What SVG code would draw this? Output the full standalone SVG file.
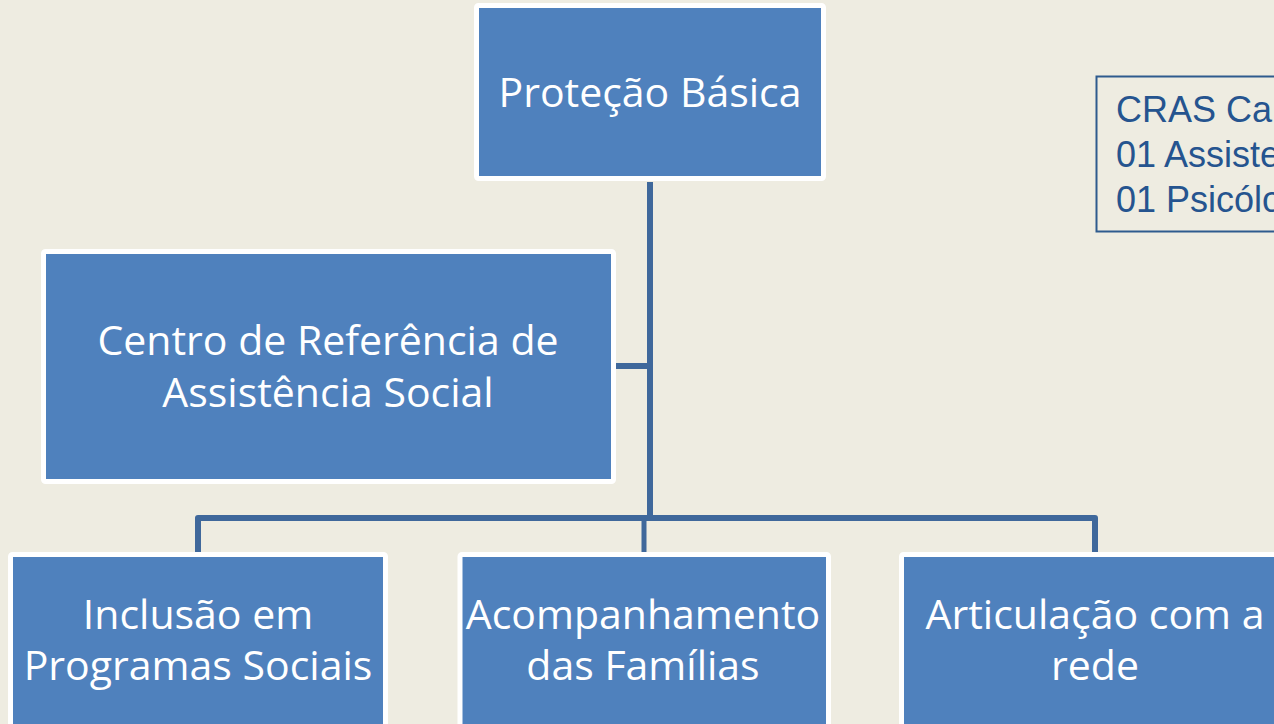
<svg xmlns="http://www.w3.org/2000/svg" width="1274" height="724" viewBox="0 0 1274 724">
<style>
.node rect{fill:#4F81BD;stroke:#FFFFFF;stroke-width:5}
.node text{font-family:"Open Sans","Noto Sans",sans-serif;font-size:41px;fill:#FFFFFF;text-anchor:middle}
.conn{stroke:#3F689B;stroke-width:6;fill:none;stroke-linejoin:round}
.note text{font-family:"Liberation Sans",Arial,sans-serif;font-size:36px;fill:#25548F}
</style>
<rect width="1274" height="724" fill="#EEECE1"/>
<g id="connectors">
<path class="conn" d="M650 182 V518"/>
<path class="conn" d="M616 366 H650"/>
<path class="conn" d="M198 552 V518 H1095 V552"/>
<path class="conn" d="M644 518 V552" style="stroke-width:5"/>
</g>
<g id="protecao-basica" class="node">
<rect x="476.5" y="5.5" width="347" height="173" rx="2"/>
<text x="650" y="107">Proteção Básica</text>
</g>
<g id="cras-centro" class="node">
<rect x="43.5" y="251.5" width="570" height="230" rx="2"/>
<text x="328" y="355">Centro de Referência de</text>
<text x="328" y="407">Assistência Social</text>
</g>
<g id="inclusao" class="node">
<rect x="10.5" y="554.5" width="375" height="200" rx="2"/>
<text x="198" y="629">Inclusão em</text>
<text x="198" y="680">Programas Sociais</text>
</g>
<g id="acompanhamento" class="node">
<rect x="460" y="554.5" width="368.5" height="200" rx="2"/>
<text x="643" y="629">Acompanhamento</text>
<text x="643" y="680">das Famílias</text>
</g>
<g id="articulacao" class="node">
<rect x="901.5" y="554.5" width="390" height="200" rx="2"/>
<text x="1095" y="629">Articulação com a</text>
<text x="1095" y="680">rede</text>
</g>
<g id="cras-equipe" class="note">
<rect x="1096.5" y="76.5" width="300" height="155" fill="none" stroke="#2E5B8E" stroke-width="2"/>
<text x="1116" y="122">CRAS Ca</text>
<text x="1116" y="167">01 Assiste</text>
<text x="1116" y="212">01 Psicólo</text>
</g>
</svg>
